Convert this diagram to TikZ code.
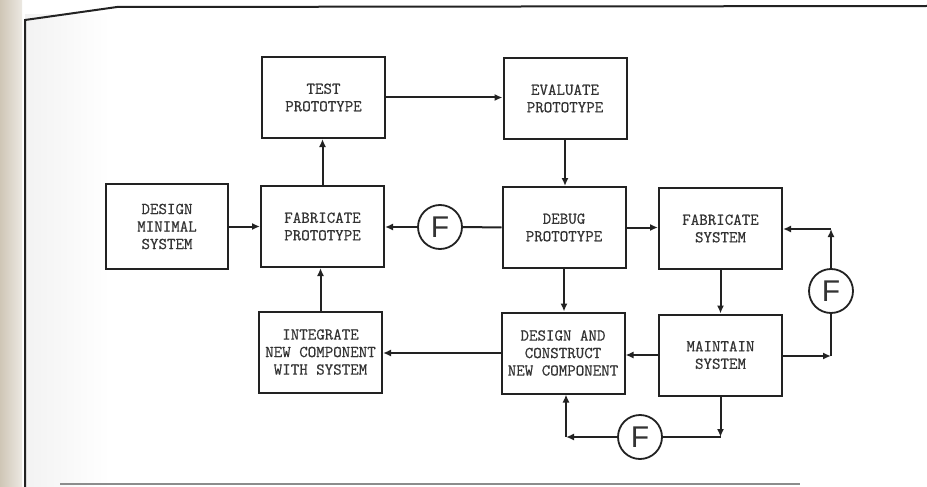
\documentclass[tikz,border=0pt]{standalone}
\usepackage{fontspec}
\newfontfamily\ffont{Liberation Sans}
\newfontfamily\boxfont{Latin Modern Mono}[FakeBold=0.6]
\usetikzlibrary{arrows.meta}
\definecolor{ink}{HTML}{222222}
\definecolor{txt}{HTML}{333333}
\definecolor{strip}{HTML}{CFC6B6}
\begin{document}
\begin{tikzpicture}[x=1pt,y=-1pt,
  box/.style={draw=ink, line width=2pt, minimum width=123pt, minimum height=81pt,
    align=center, text=txt, font=\boxfont\fontsize{16.5}{17.5}\selectfont, inner sep=0pt},
  fcirc/.style={draw=ink, circle, line width=1.8pt, minimum size=44pt, inner sep=0pt,
    text=txt, font=\ffont\fontsize{30}{30}\selectfont},
  conn/.style={draw=ink, line width=2pt},
  arr/.style={conn, -{Latex[length=8pt,width=7pt]}},
  frame/.style={draw=ink, line width=2pt}]
\useasboundingbox (0,0) rectangle (927,487);
% scan background
\fill[white] (0,0) rectangle (927,487);
\shade[left color=strip, right color=strip!40] (0,0) rectangle (22,487);
\shade[left color=black!5, right color=white] (25,15) rectangle (110,487);
% frame
\draw[frame] (25,487) -- (25,20) -- (117,7) -- (927,6);
\draw[draw=black!45, line width=2pt] (60,484) -- (800,484);

% boxes
\node[box] (test)  at (323.5,97.5) {TEST\\PROTOTYPE};
\node[box] (eval)  at (565,98.5)   {EVALUATE\\PROTOTYPE};
\node[box, minimum width=122pt, minimum height=85pt] (dms) at (167,226.5) {DESIGN\\MINIMAL\\SYSTEM};
\node[box] (fabp)  at (322.5,226.5) {FABRICATE\\PROTOTYPE};
\node[box] (debug) at (564,227.5)   {DEBUG\\PROTOTYPE};
\node[box] (fabs)  at (720.5,228.5) {FABRICATE\\SYSTEM};
\node[box] (integ) at (320.5,352)   {INTEGRATE\\NEW COMPONENT\\WITH SYSTEM};
\node[box] (dac)   at (563,353)     {DESIGN AND\\CONSTRUCT\\NEW COMPONENT};
\node[box] (maint) at (720.5,355)   {MAINTAIN\\SYSTEM};

% F circles
\node[fcirc] (f1) at (440,227) {F};
\node[fcirc] (f2) at (831,291) {F};
\node[fcirc] (f3) at (640,437) {F};

% corner coordinates
\coordinate (c1) at (831,356);
\coordinate (c2) at (831,229);
\coordinate (c3) at (720.5,437);
\coordinate (c4) at (566,437);

% connectors
\draw[arr] (dms.east) -- (fabp.west |- dms.east);
\draw[arr] (fabp.north) -- (fabp.north |- test.south);
\draw[arr] (test.east) -- (eval.west |- test.east);
\draw[arr] (eval.south) -- (eval.south |- debug.north);
\draw[conn] (debug.west) -- (f1.east);
\draw[arr] (f1.west) -- (fabp.east |- f1.west);
\draw[arr] (debug.east) -- (fabs.west |- debug.east);
\draw[arr] (debug.south) -- (debug.south |- dac.north);
\draw[arr] (fabs.south) -- (fabs.south |- maint.north);
\draw[arr] (maint.west) -- (dac.east |- maint.west);
\draw[arr] (dac.west) -- (integ.east |- dac.west);
\draw[arr] (integ.north) -- (integ.north |- fabp.south);
% right feedback loop
\draw[arr] (maint.east |- c1) -- (c1);
\draw[conn] (c1) -- (f2.south);
\draw[arr] (f2.north) -- (c2);
\draw[arr] (c2) -- (fabs.east |- c2);
% bottom feedback loop
\draw[arr] (maint.south -| c3) -- (c3);
\draw[conn] (c3) -- (f3.east);
\draw[arr] (f3.west) -- (c4);
\draw[arr] (c4) -- (c4 |- dac.south);
\end{tikzpicture}
\end{document}
